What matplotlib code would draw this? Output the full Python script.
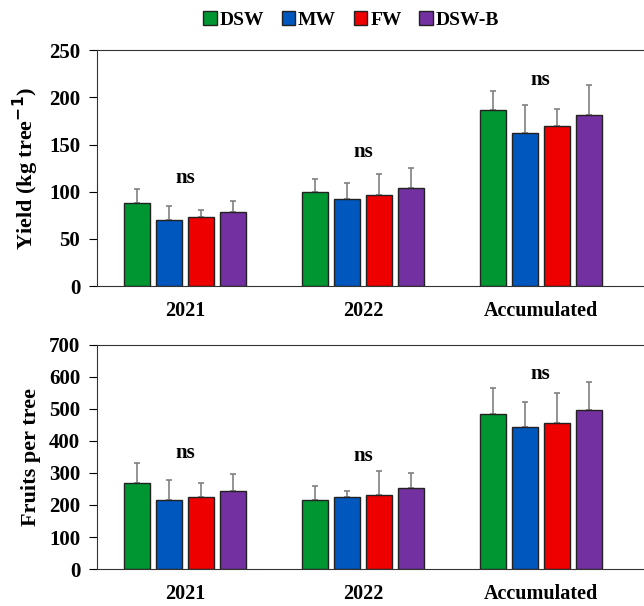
import numpy as np
import matplotlib
matplotlib.use("Agg")
import matplotlib.pyplot as plt
from matplotlib.patches import Patch

plt.rcParams['font.family'] = ['Liberation Serif', 'DejaVu Serif']
plt.rcParams['font.weight'] = 'bold'

# Данные
groups = ['2021', '2022', 'Accumulated']
treatments = ['DSW', 'MW', 'FW', 'DSW-B']
colors = ['#009632', '#0057bd', '#ee0000', '#7330a0']

yield_dsw = [88, 100, 187]
yield_mw = [70, 92, 162]
yield_fw = [73, 97, 170]
yield_dswb = [78, 104, 181]
yield_dsw_err = [15, 13, 20]
yield_mw_err = [15, 17, 30]
yield_fw_err = [8, 22, 18]
yield_dswb_err = [12, 21, 32]

fruits_dsw = [270, 216, 485]
fruits_mw = [216, 225, 442]
fruits_fw = [225, 231, 456]
fruits_dswb = [243, 252, 497]
fruits_dsw_err = [62, 42, 81]
fruits_mw_err = [62, 18, 78]
fruits_fw_err = [45, 76, 93]
fruits_dswb_err = [53, 47, 86]

yield_ns_y = [115, 142, 218]
fruits_ns_y = [362, 353, 609]

fig = plt.figure(figsize=(6.44, 6.06), dpi=100)
ax1 = fig.add_axes([0.1506, 0.528, 0.8494, 0.389])
ax2 = fig.add_axes([0.1506, 0.061, 0.8494, 0.370])

x = np.arange(len(groups))
offsets = [-0.27, -0.09, 0.09, 0.27]
width = 0.146


def draw(ax, values, errors, ns_y, ymax, step, ylabel):
    for i in range(4):
        ax.bar(x + offsets[i], values[i], width, color=colors[i],
               edgecolor='#222222', linewidth=1, zorder=2)
        ax.errorbar(x + offsets[i], values[i], yerr=[np.zeros(3), errors[i]],
                    fmt='none', ecolor='#808080', elinewidth=1.2, capsize=2.5,
                    capthick=1.2, zorder=1)
    for j in range(len(groups)):
        ax.text(x[j], ns_y[j], 'ns', ha='center', va='center',
                fontsize=15, fontweight='bold')
    ax.set_xlim(-0.494, 2.58)
    ax.set_ylim(0, ymax)
    ax.set_yticks(np.arange(0, ymax + 1, step))
    ax.set_xticks(x)
    ax.set_xticklabels(groups)
    ax.tick_params(axis='x', length=0, pad=11, labelsize=14.5)
    ax.tick_params(axis='y', direction='out', length=6, pad=6, labelsize=15)
    ax.spines['right'].set_visible(False)
    for s in ['left', 'top', 'bottom']:
        ax.spines[s].set_color('#333333')
    ax.set_ylabel(ylabel, fontsize=16, fontweight='bold', labelpad=6)


draw(ax1, [yield_dsw, yield_mw, yield_fw, yield_dswb],
     [yield_dsw_err, yield_mw_err, yield_fw_err, yield_dswb_err],
     yield_ns_y, 250, 50, 'Yield (kg tree$^{\\mathbf{-1}}$)')
draw(ax2, [fruits_dsw, fruits_mw, fruits_fw, fruits_dswb],
     [fruits_dsw_err, fruits_mw_err, fruits_fw_err, fruits_dswb_err],
     fruits_ns_y, 700, 100, 'Fruits per tree')

handles = [Patch(facecolor=c, edgecolor='#222222', label=t) for c, t in zip(colors, treatments)]
fig.legend(handles=handles, loc='center', bbox_to_anchor=(351 / 644, 1 - 20 / 606),
           ncol=4, frameon=False, handlelength=0.7, handleheight=0.7,
           handletextpad=0.15, columnspacing=0.9, prop={'weight': 'bold', 'size': 14})

plt.savefig('out.png', dpi=100)
